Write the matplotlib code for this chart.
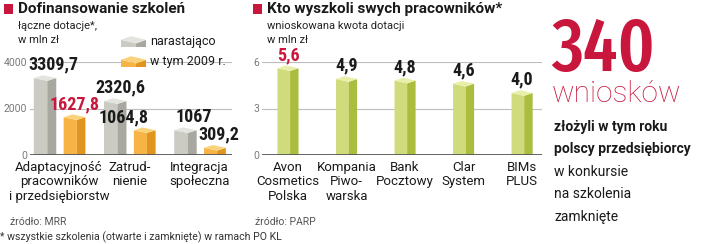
import matplotlib
matplotlib.use('Agg')
import matplotlib.pyplot as plt
from matplotlib.patches import Polygon, Rectangle

plt.rcParams['font.family'] = ['Roboto', 'DejaVu Sans']

# --- dane ---
kategorie_l = ['Adaptacyjność\npracowników\ni przedsiębiorstw', 'Zatrud-\nnienie',
               'Integracja\nspołeczna']
narastajaco = [3309.7, 2320.6, 1067]
w_2009 = [1627.8, 1064.8, 309.2]
etyk_nar = ['3309,7', '2320,6', '1067']
etyk_2009 = ['1627,8', '1064,8', '309,2']

firmy = ['Avon\nCosmetics\nPolska', 'Kompania\nPiwo-\nwarska', 'Bank\nPocztowy',
         'Clar\nSystem', 'BIMs\nPLUS']
kwoty = [5.6, 4.9, 4.8, 4.6, 4.0]
etyk_kwoty = ['5,6', '4,9', '4,8', '4,6', '4,0']

CZERW = '#c8163c'
SZARY = ('#cbcbc4', '#a8a8a0', '#e4e4de')
POMAR = ('#f7b444', '#e0951c', '#fbd27c')
ZIEL = ('#d0dc7c', '#aabd3e', '#e8efa8')
COND = ['Roboto Condensed', 'DejaVu Sans']

W, H = 720, 244
fig = plt.figure(figsize=(W / 100, H / 100), dpi=100)


def fx(px):
    return px / W


def fy(py):
    return 1 - py / H


def klocek(ax, x, h, w, kolory, dy):
    # "trojwymiarowy" slupek: lewa sciana, prawa sciana, wierzch
    x0, x1 = x - w / 2, x + w / 2
    xm = x0 + 0.6 * w
    ax.add_patch(Polygon([(x0, 0), (xm, 0), (xm, h - dy), (x0, h)], fc=kolory[0], ec='none'))
    ax.add_patch(Polygon([(xm, 0), (x1, 0), (x1, h), (xm, h - dy)], fc=kolory[1], ec='none'))
    ax.add_patch(Polygon([(x0, h), (xm, h - dy), (x1, h), (x0 + x1 - xm, h + dy)],
                         fc=kolory[2], ec='none'))


def osie(ax, yt, ytl):
    ax.set_yticks(yt)
    ax.set_yticklabels(ytl, fontsize=7.5, color='#7a7a7a')
    ax.tick_params(axis='y', length=0, pad=2)
    ax.tick_params(axis='x', length=0, pad=4, labelsize=9.5)
    for s in ax.spines.values():
        s.set_visible(False)
    for y in yt[1:]:
        ax.axhline(y, color='#bdbdbd', lw=0.8, zorder=0)
    ax.axhline(0, color='#555555', lw=2, zorder=3)
    ax.patch.set_alpha(0)


# ---------- lewy wykres ----------
ax1 = fig.add_axes([fx(30), fy(155), fx(202), (155 - 62) / H])
ax1.set_xlim(-0.414, 2.463)
ax1.set_ylim(0, 4000)
osie(ax1, [0, 2000, 4000], ['0', '2000', '4000'])
ax1.set_xticks(range(3))
ax1.set_xticklabels(kategorie_l, linespacing=1.15, color='#1a1a1a')
dx_lab = [[6, 0], [4, -15], [6, 3]]
for i in range(3):
    klocek(ax1, i - 0.2, narastajaco[i], 0.32, SZARY, 120)
    klocek(ax1, i + 0.22, w_2009[i], 0.31, POMAR, 120)
    ax1.annotate(etyk_nar[i], (i - 0.2, narastajaco[i]), xytext=(dx_lab[i][0], 3),
                 textcoords='offset points', ha='center', va='bottom', family=COND,
                 fontsize=13, fontweight='bold', color='#1a1a1a', annotation_clip=False)
    ax1.annotate(etyk_2009[i], (i + 0.22, w_2009[i]), xytext=(dx_lab[i][1], 3),
                 textcoords='offset points', ha='center', va='bottom', family=COND,
                 fontsize=13, fontweight='bold',
                 color=CZERW if i == 0 else '#1a1a1a', annotation_clip=False)

# ---------- prawy wykres ----------
ax2 = fig.add_axes([fx(262), fy(155), fx(280), (155 - 62) / H])
ax2.set_xlim(-0.444, 4.34)
ax2.set_ylim(0, 6)
osie(ax2, [0, 3, 6], ['0', '3', '6'])
ax2.set_xticks(range(len(firmy)))
ax2.set_xticklabels(firmy, linespacing=1.15, color='#1a1a1a')
for i, v in enumerate(kwoty):
    klocek(ax2, i, v, 0.36, ZIEL, 0.18)
    ax2.annotate(etyk_kwoty[i], (i, v), xytext=(0, 3), textcoords='offset points',
                 ha='center', va='bottom', fontsize=13, fontweight='bold', family=COND,
                 color=CZERW if i == 0 else '#1a1a1a', annotation_clip=False)

# ---------- legenda ----------
for py, kol, txt in [(41, SZARY, 'narastająco'), (61, POMAR, 'w tym 2009 r.')]:
    lax = fig.add_axes([fx(121), fy(py + 6), fx(25), 12 / H])
    lax.set_xlim(0, 1)
    lax.set_ylim(0, 1)
    lax.axis('off')
    klocek(lax, 0.5, 0.6, 1, kol, 0.3)
    fig.text(fx(150), fy(py), txt, fontsize=9, color='#1a1a1a', va='center')

# ---------- tytuly ----------
for px, tyt, pod in [(4, 'Dofinansowanie szkoleń', 'łączne dotacje*,\nw mln zł'),
                     (253, 'Kto wyszkoli swych pracowników*', 'wnioskowana kwota dotacji\nw mln zł')]:
    fig.patches.append(Rectangle((fx(px), fy(14)), fx(9), 10 / H, transform=fig.transFigure,
                                 fc=CZERW, ec='none'))
    fig.text(fx(px + 14), fy(9), tyt, fontsize=11, fontweight='bold', color='#1a1a1a', va='center')
    fig.text(fx(px + 14), fy(21), pod, fontsize=8, color='#222222', va='top', linespacing=1.45)

fig.text(fx(10), fy(222), 'źródło: MRR', fontsize=7.5, color='#555555', va='center')
fig.text(fx(255), fy(222), 'źródło: PARP', fontsize=7.5, color='#555555', va='center')
fig.text(fx(0), fy(237), '* wszystkie szkolenia (otwarte i zamknięte) w ramach PO KL',
         fontsize=7.6, color='#333333', va='center')

# ---------- prawa kolumna ----------
fig.text(fx(551), fy(71), '340', fontsize=54, color=CZERW, va='baseline',
         family=['Fira Sans Extra Condensed', 'Roboto Condensed'], fontweight='medium')
fig.text(fx(552), fy(102), 'wniosków', fontsize=21.5, color=CZERW, va='baseline',
         fontweight='light')
for j, (t, b) in enumerate([('złożyli w tym roku', True), ('polscy przedsiębiorcy', True),
                             ('w konkursie', False), ('na szkolenia', False),
                             ('zamknięte', False)]):
    fig.text(fx(554), fy(127 + 22.5 * j), t, fontsize=10, va='center', color='#1a1a1a',
             fontweight='bold' if b else 'normal')

fig.savefig('out.png', dpi=100)
